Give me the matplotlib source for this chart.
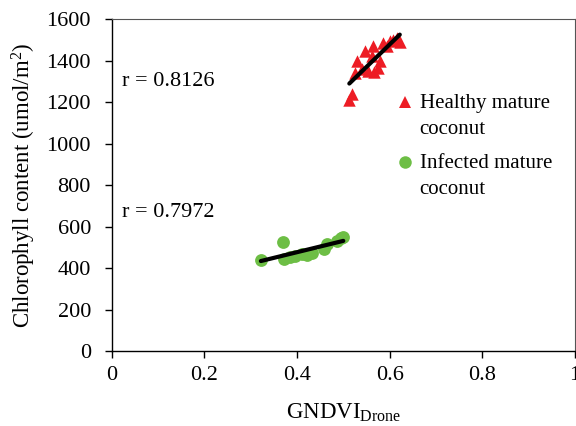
import numpy as np
import matplotlib
matplotlib.use("Agg")
import matplotlib.pyplot as plt

plt.rcParams['font.family'] = ['Liberation Serif', 'DejaVu Serif']
plt.rcParams['mathtext.fontset'] = 'custom'
plt.rcParams['mathtext.rm'] = 'Liberation Serif'
plt.rcParams['mathtext.it'] = 'Liberation Serif'

healthy_x = [0.513, 0.518, 0.525, 0.529, 0.540, 0.546, 0.553, 0.561, 0.564, 0.567,
             0.575, 0.579, 0.585, 0.595, 0.600, 0.607, 0.615, 0.622]
healthy_y = [1210, 1240, 1340, 1398, 1360, 1446, 1350, 1422, 1470, 1345,
             1364, 1398, 1484, 1470, 1494, 1499, 1510, 1490]
infected_x = [0.322, 0.369, 0.372, 0.385, 0.395, 0.410, 0.421, 0.432, 0.458, 0.464,
              0.486, 0.495, 0.500]
infected_y = [440, 525, 445, 455, 460, 470, 465, 475, 490, 515, 530, 545, 548]
r_labels = ["r = 0.8126", "r = 0.7972"]
legend_labels = ["Healthy mature\ncoconut", "Infected mature\ncoconut"]

fig = plt.figure(figsize=(5.76, 4.26), dpi=100)
ax = fig.add_axes([0.194, 0.176, 0.804, 0.779])

red = '#ED1C24'
green = '#6DBE45'
ax.scatter(healthy_x, healthy_y, marker='^', s=80, color=red, linewidths=0, zorder=2)
ax.scatter(infected_x, infected_y, marker='o', s=85, color=green, linewidths=0, zorder=2)

for xs, ys in [(healthy_x, healthy_y), (infected_x, infected_y)]:
    xs = np.array(xs); ys = np.array(ys)
    m, b = np.polyfit(xs, ys, 1)
    xl = np.array([xs.min(), xs.max()])
    ax.plot(xl, m * xl + b, color='black', lw=3, solid_capstyle='round', zorder=3)

ax.text(0.022, 1300, r_labels[0], fontsize=16, va='center', ha='left')
ax.text(0.022, 670, r_labels[1], fontsize=16, va='center', ha='left')

# manual legend (marker aligned with first text line)
for (mk, col, sz), ly, lab in zip([('^', red, 8), ('o', green, 9)], [0.75, 0.569], legend_labels):
    ax.plot([0.633], [ly], marker=mk, color=col, markersize=sz, markeredgewidth=0,
            linestyle='none', transform=ax.transAxes, clip_on=False)
    ax.text(0.665, ly - 0.024, lab, transform=ax.transAxes, fontsize=15, va='center_baseline',
            ha='left', linespacing=1.5)

ax.set_xlim(0, 1)
ax.set_ylim(0, 1600)
ax.set_xticks([0, 0.2, 0.4, 0.6, 0.8, 1])
ax.set_xticklabels(['0', '0.2', '0.4', '0.6', '0.8', '1'])
ax.set_yticks(range(0, 1601, 200))
ax.tick_params(direction='out', length=5, width=1, labelsize=16, colors='black')
ax.tick_params(axis='y', pad=10)
ax.tick_params(axis='x', pad=6)
for s in ['top', 'right']:
    ax.spines[s].set_color('#555555')
    ax.spines[s].set_linewidth(0.8)
for s in ['left', 'bottom']:
    ax.spines[s].set_linewidth(1)

ax.set_ylabel('Chlorophyll content (umol/m$^2$)', fontsize=16.5)
ax.yaxis.set_label_coords(-0.16, 0.5)
ax.set_xlabel(r'GNDVI$_{\mathrm{Drone}}$', fontsize=16.5, labelpad=12)

fig.savefig('out.png', dpi=100)
